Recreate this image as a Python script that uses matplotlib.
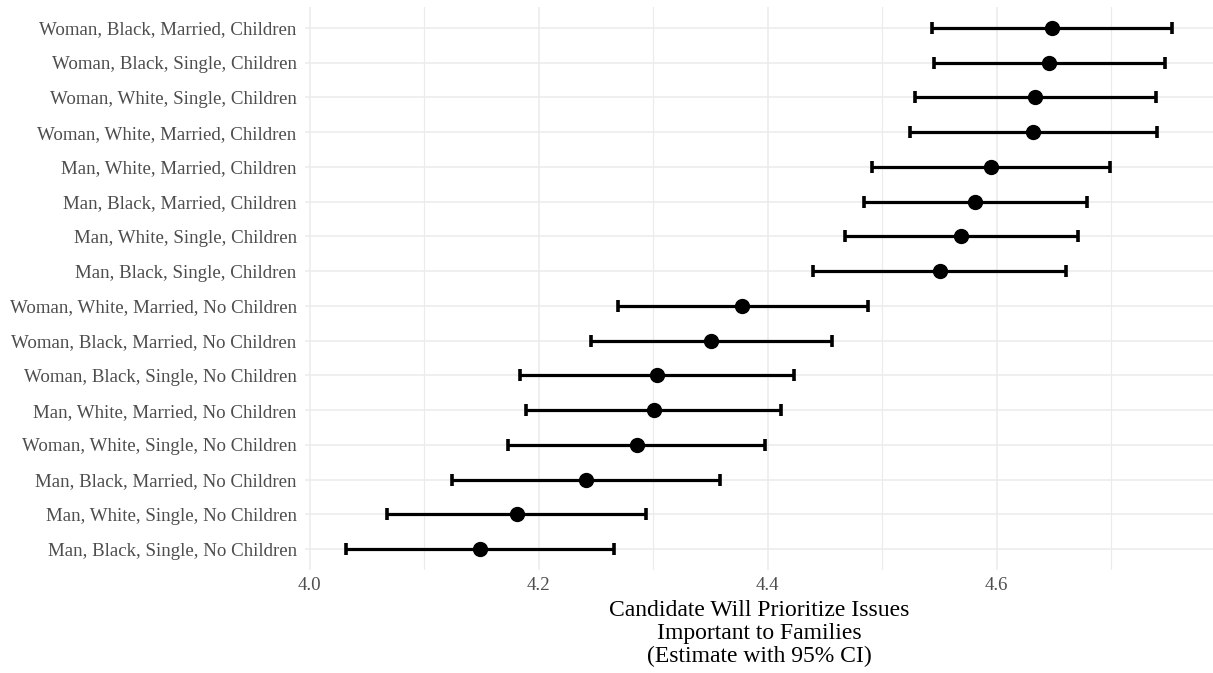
import matplotlib
matplotlib.use('Agg')
import matplotlib.pyplot as plt
import numpy as np

plt.rcParams['font.family'] = ['Liberation Serif', 'DejaVu Serif']

# top to bottom, as shown in the chart
labels = [
    'Woman, Black, Married, Children',
    'Woman, Black, Single, Children',
    'Woman, White, Single, Children',
    'Woman, White, Married, Children',
    'Man, White, Married, Children',
    'Man, Black, Married, Children',
    'Man, White, Single, Children',
    'Man, Black, Single, Children',
    'Woman, White, Married, No Children',
    'Woman, Black, Married, No Children',
    'Woman, Black, Single, No Children',
    'Man, White, Married, No Children',
    'Woman, White, Single, No Children',
    'Man, Black, Married, No Children',
    'Man, White, Single, No Children',
    'Man, Black, Single, No Children',
]
estimate = [4.648, 4.646, 4.634, 4.632, 4.595, 4.581, 4.569, 4.551,
            4.378, 4.351, 4.303, 4.301, 4.286, 4.241, 4.181, 4.149]
ci_low = [4.544, 4.545, 4.529, 4.524, 4.491, 4.484, 4.468, 4.440,
          4.269, 4.246, 4.184, 4.189, 4.173, 4.124, 4.068, 4.032]
ci_high = [4.753, 4.747, 4.739, 4.740, 4.699, 4.679, 4.671, 4.661,
           4.488, 4.456, 4.423, 4.412, 4.398, 4.358, 4.294, 4.266]

est = np.array(estimate)
lo = np.array(ci_low)
hi = np.array(ci_high)
n = len(labels)
ypos = np.arange(n)[::-1]

fig = plt.figure(figsize=(12.13, 6.73), dpi=100)
ax = fig.add_axes([305 / 1213, 1 - 570 / 673, 1 - 305 / 1213, (570 - 7) / 673])

# grid (ggplot theme_minimal style)
ax.set_axisbelow(True)
for x in [4.1, 4.3, 4.5, 4.7]:
    ax.axvline(x, color='#EBEBEB', lw=0.8, zorder=0)
for x in [4.0, 4.2, 4.4, 4.6]:
    ax.axvline(x, color='#EBEBEB', lw=1.1, zorder=0)
for y in ypos:
    ax.axhline(y, color='#EBEBEB', lw=1.1, zorder=0)

ax.errorbar(est, ypos, xerr=[est - lo, hi - est], fmt='o', color='black',
            ecolor='black', elinewidth=2.3, capsize=4, capthick=2.6,
            markersize=10, zorder=3)

rng = hi.max() - lo.min()
ax.set_xlim(lo.min() - 0.05 * rng, hi.max() + 0.05 * rng)
ax.set_ylim(-0.6, n - 0.4)

ax.set_xticks([4.0, 4.2, 4.4, 4.6])
ax.set_xticklabels(['4.0', '4.2', '4.4', '4.6'])
ax.set_yticks(ypos)
ax.set_yticklabels(labels)
ax.tick_params(axis='both', length=0, labelsize=13.6, labelcolor='#4D4D4D')
ax.tick_params(axis='y', pad=6)
ax.tick_params(axis='x', pad=5)
for s in ax.spines.values():
    s.set_visible(False)

ax.set_xlabel('Candidate Will Prioritize Issues\nImportant to Families\n(Estimate with 95% CI)',
              fontsize=17, color='black', linespacing=1.15, labelpad=4)

fig.savefig('out.png', dpi=100)
